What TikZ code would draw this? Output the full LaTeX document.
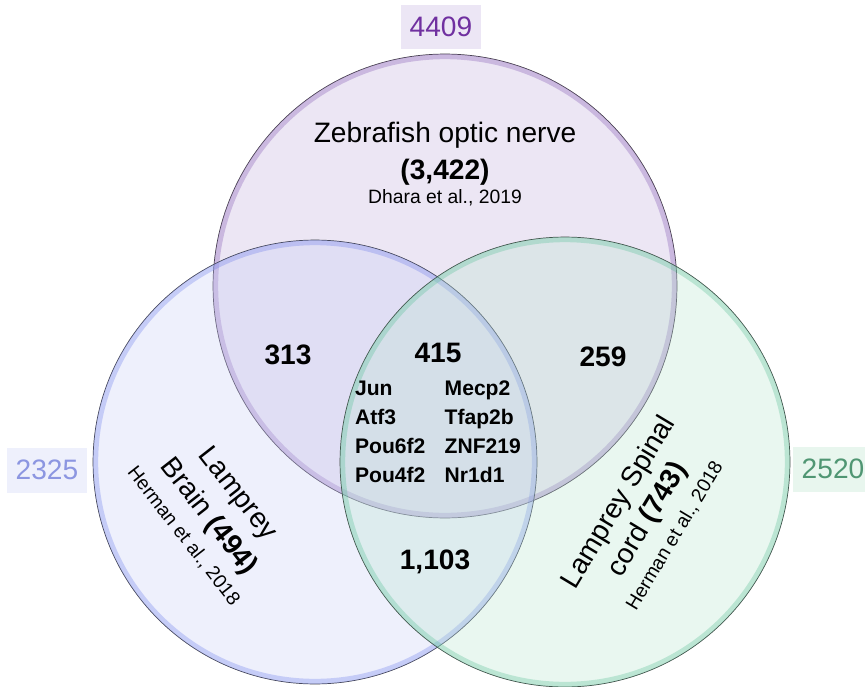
\documentclass[tikz,border=0pt]{standalone}
\usepackage{fontspec}
\setmainfont{Liberation Sans}
\usetikzlibrary{positioning}
\definecolor{zfill}{RGB}{192,172,218}
\definecolor{bfill}{RGB}{198,205,245}
\definecolor{gfill}{RGB}{182,228,205}
\definecolor{zrim}{RGB}{125,80,175}
\definecolor{brim}{RGB}{105,120,235}
\definecolor{grim}{RGB}{80,190,145}
\definecolor{ztxt}{RGB}{112,48,160}
\definecolor{btxt}{RGB}{140,150,225}
\definecolor{gtxt}{RGB}{80,150,115}
\definecolor{zbox}{RGB}{236,230,245}
\definecolor{bbox}{RGB}{238,240,252}
\definecolor{gbox}{RGB}{232,246,238}
\newcommand{\bigtxt}{\fontsize{16}{19}\selectfont}
\newcommand{\smalltxt}{\fontsize{11}{13}\selectfont}

\begin{document}
\begin{tikzpicture}[x=0.02cm,y=-0.02cm,
  venn/.style={circle,draw=black!75,line width=.4pt,fill=#1,fill opacity=.3,
               inner sep=0pt},
  rim/.style={#1,line width=3pt,opacity=.3},
  cnt/.style={minimum width=1.6cm,minimum height=0.9cm,font=\bigtxt},
  num/.style={font=\bigtxt\bfseries}]
\useasboundingbox (0,0) rectangle (865,686);
% totals
\node[cnt,fill=zbox,text=ztxt] (tz) at (441,27) {4409};
\node[cnt,fill=bbox,text=btxt] (tb) at (47,470) {2325};
\node[cnt,fill=gbox,text=gtxt] (tg) at (833,469) {2520};
% circles
\node[venn=zfill,minimum size=9.28cm] (z) at (445,286) {};
\draw[rim=zrim] (z.center) circle[radius=4.59cm];
\node[venn=bfill,minimum size=8.88cm] (b) at (315,462) {};
\draw[rim=brim] (b.center) circle[radius=4.39cm];
\node[venn=gfill,minimum size=9.0cm] (g) at (565,462) {};
\draw[rim=grim] (g.center) circle[radius=4.45cm];
% sets
\node[align=center,font=\bigtxt] (zt) at (445,164) {Zebrafish optic nerve\\[2pt]
  \textbf{(3,422)}\\[-5pt] \smalltxt Dhara et al., 2019};
\node[align=center,rotate=-52,font=\fontsize{16}{21}\selectfont] (bt) at (212,514)
  {Lamprey\\ Brain \textbf{(494)}\\[-4pt] \smalltxt Herman et al., 2018};
\node[align=center,rotate=59,font=\fontsize{16}{19}\selectfont] (gt) at (645,518)
  {Lamprey Spinal\\ cord \textbf{(743)}\\[-2pt] \smalltxt Herman et al., 2018};
% overlaps
\node[num] (zb) at (288,355) {313};
\node[num] (zg) at (603,357) {259};
\node[num] (bg) at (435,562) {1,103};
\node[num] (all) at (438,353) {415};
\node[below=0pt of all,font=\fontsize{12}{16.5}\selectfont\bfseries] (genes)
  {\begin{tabular}{@{}p{51pt}@{}l@{}}
   Jun & Mecp2\\ Atf3 & Tfap2b\\ Pou6f2 & ZNF219\\ Pou4f2 & Nr1d1
   \end{tabular}};
\end{tikzpicture}
\end{document}
